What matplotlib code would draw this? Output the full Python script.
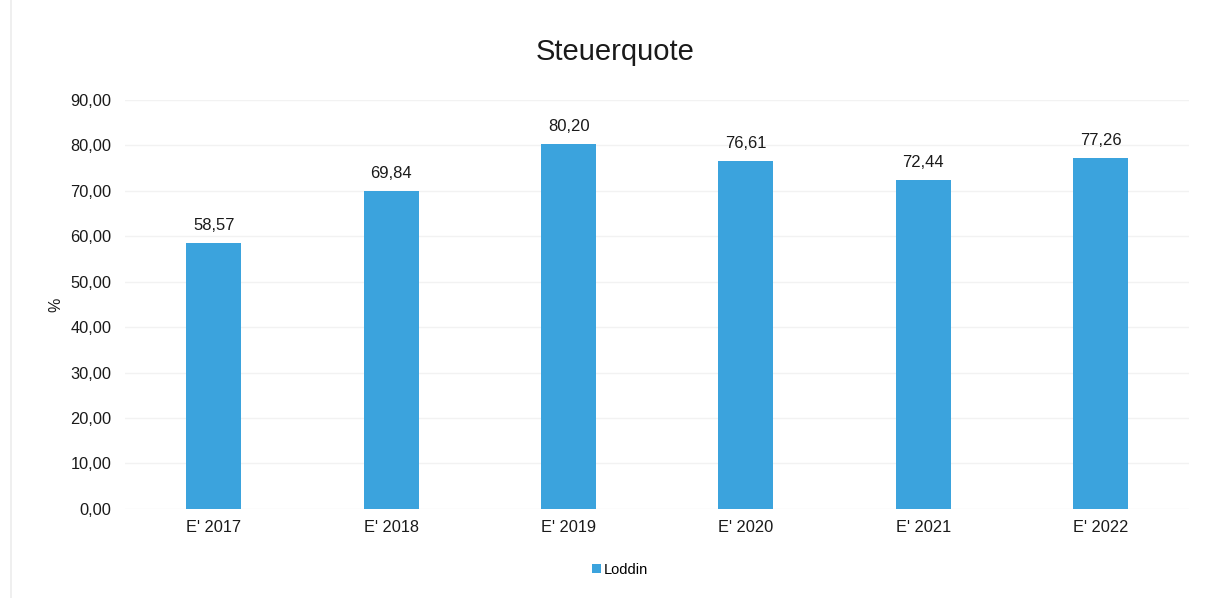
import matplotlib
matplotlib.use("Agg")
import matplotlib.pyplot as plt
from matplotlib.ticker import FuncFormatter, MultipleLocator

categories = ["E' 2017", "E' 2018", "E' 2019", "E' 2020", "E' 2021", "E' 2022"]
values = [58.57, 69.84, 80.20, 76.61, 72.44, 77.26]
series_name = "Loddin"

plt.rcParams['font.family'] = ['Liberation Sans', 'DejaVu Sans']

fig = plt.figure(figsize=(12.16, 5.98), dpi=100)
ax = fig.add_axes([0.103, 0.149, 0.875, 0.684])

bar_color = "#3ba3dd"
text_color = "#1a1a1a"
x = range(len(categories))
bars = ax.bar(x, values, width=0.31, color=bar_color, label=series_name, zorder=3)

for xi, v in zip(x, values):
    ax.text(xi, v + 2.2, f"{v:.2f}".replace(".", ","), ha="center", va="bottom",
            fontsize=12, color=text_color)

ax.set_xlim(-0.5, len(categories) - 0.5)
ax.set_ylim(0, 90)
ax.yaxis.set_major_locator(MultipleLocator(10))
ax.yaxis.set_major_formatter(FuncFormatter(lambda v, _: f"{v:.2f}".replace(".", ",")))
ax.set_xticks(list(x))
ax.set_xticklabels(categories)
ax.tick_params(axis="both", length=0, labelsize=11.8, colors=text_color)
ax.tick_params(axis="y", pad=10)
ax.tick_params(axis="x", pad=8)
ax.grid(axis="y", color="#f2f2f2", linewidth=1, zorder=0)
for s in ax.spines.values():
    s.set_visible(False)

ax.set_ylabel("%", fontsize=11.5, color=text_color, labelpad=5)
fig.text(0.506, 0.913, "Steuerquote", ha="center", va="center", fontsize=21, color=text_color)

fig.legend(handles=[bars], labels=[series_name], loc="center", bbox_to_anchor=(0.51, 0.047),
           frameon=False, fontsize=10.5, handlelength=0.6, handleheight=0.6, handletextpad=0.2)

fig.add_artist(plt.Line2D([0.009, 0.009], [0.0, 1.0], color="#ececec", linewidth=1.2,
                          transform=fig.transFigure))

fig.savefig("out.png", dpi=100, facecolor="white")
